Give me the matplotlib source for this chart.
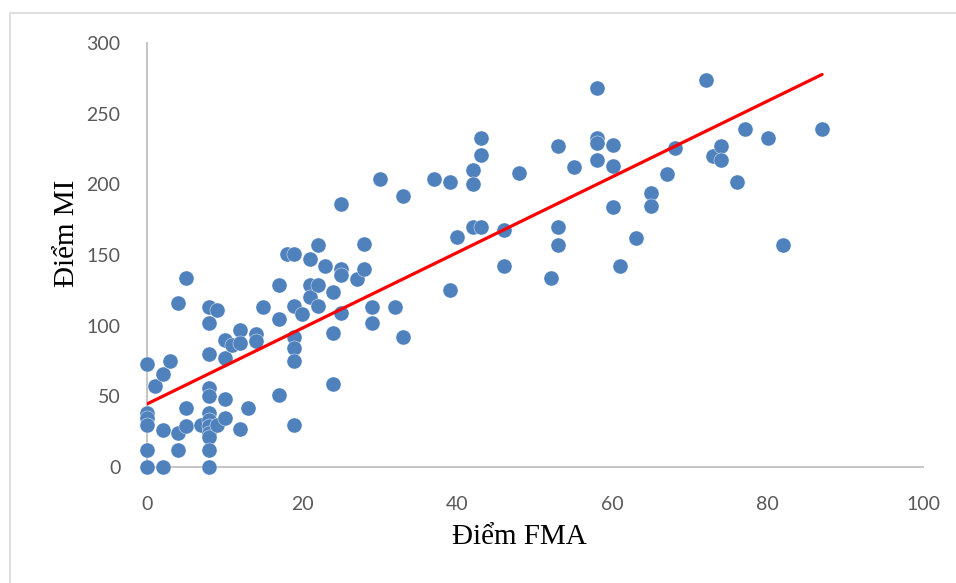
import numpy as np
import matplotlib.pyplot as plt
from matplotlib.patches import Rectangle

# FMA score vs MI score for each patient
fma = [0, 0, 0, 0, 0, 0, 1, 2, 2, 2, 3, 4, 4, 4, 5, 5, 5, 7,
       8, 8, 8, 8, 8, 8, 8, 8, 8, 8, 8, 8, 9, 9, 10, 10, 10, 10, 11,
       12, 12, 12, 13, 14, 14, 15, 17, 17, 17, 18,
       19, 19, 19, 19, 19, 19, 20, 21, 21, 21, 22, 22, 22, 23,
       24, 24, 24, 25, 25, 25, 25, 27, 28, 28, 29, 29, 30, 32, 33, 33,
       37, 39, 39, 40, 42, 42, 42, 43, 43, 43, 46, 46, 48, 52,
       53, 53, 53, 55, 58, 58, 58, 58, 60, 60, 60, 61, 63, 65, 65,
       67, 68, 72, 73, 74, 74, 76, 77, 80, 82, 87]
mi = [73, 38, 35, 30, 12, 0, 57, 66, 26, 0, 75, 116, 24, 12, 134, 42, 29, 30,
      113, 102, 80, 56, 50, 38, 33, 29, 24, 21, 12, 0, 111, 30, 90, 77, 48, 35, 86,
      97, 88, 27, 42, 94, 89, 113, 129, 105, 51, 151,
      151, 114, 92, 84, 75, 30, 108, 147, 129, 120, 157, 129, 114, 142,
      124, 95, 59, 186, 140, 136, 109, 133, 158, 140, 113, 102, 204, 113, 192, 92,
      204, 202, 125, 163, 210, 200, 170, 233, 221, 170, 168, 142, 208, 134,
      227, 170, 157, 212, 268, 233, 229, 217, 228, 213, 184, 142, 162, 194, 185,
      207, 226, 274, 220, 227, 217, 202, 239, 233, 157, 239]

# linear trend line (MI = intercept + slope * FMA)
trend_intercept = 44.6
trend_slope = 2.68

x_ticks = [0, 20, 40, 60, 80, 100]
y_ticks = [0, 50, 100, 150, 200, 250, 300]

fma = np.array(fma, dtype=float)
mi = np.array(mi, dtype=float)

x_fit = np.array([fma.min(), fma.max()])
y_fit = trend_intercept + trend_slope * x_fit

fig = plt.figure(figsize=(9.56, 5.83), dpi=100)
ax = fig.add_axes([147 / 956, 1 - 467 / 583, 776 / 956, 424 / 583])

# light chart-area border
fig.patches.append(Rectangle((10 / 956, -0.05), 1.0, 0.05 + 1 - 13 / 583,
                             transform=fig.transFigure, fill=False,
                             edgecolor='#d9d9d9', linewidth=1.2))

ax.scatter(fma, mi, s=118, color='#4f81bd', edgecolors='white',
           linewidths=0.3, zorder=3, clip_on=False)
ax.plot(x_fit, y_fit, color='#ff0000', linewidth=2.3, zorder=4,
        solid_capstyle='round')

ax.set_xlim(0, 100)
ax.set_ylim(0, 300)
ax.set_xticks(x_ticks)
ax.set_yticks(y_ticks)

for side in ['top', 'right']:
    ax.spines[side].set_visible(False)
for side in ['left', 'bottom']:
    ax.spines[side].set_color('#bfbfbf')
    ax.spines[side].set_linewidth(1.3)

ax.tick_params(length=0, colors='#595959', labelsize=14)
ax.tick_params(axis='x', pad=21)
ax.tick_params(axis='y', pad=19)
for lbl in ax.get_xticklabels() + ax.get_yticklabels():
    lbl.set_family('Lato')

ax.set_xlabel('Điểm FMA', family='Liberation Serif', fontsize=21)
ax.set_ylabel('Điểm MI', family='Liberation Serif', fontsize=21)
ax.xaxis.set_label_coords(0.48, -0.165)
ax.yaxis.set_label_coords(-0.103, 0.55)
ax.xaxis.label.set_va('center')
ax.yaxis.label.set_va('center')

fig.savefig('out.png', dpi=100)
